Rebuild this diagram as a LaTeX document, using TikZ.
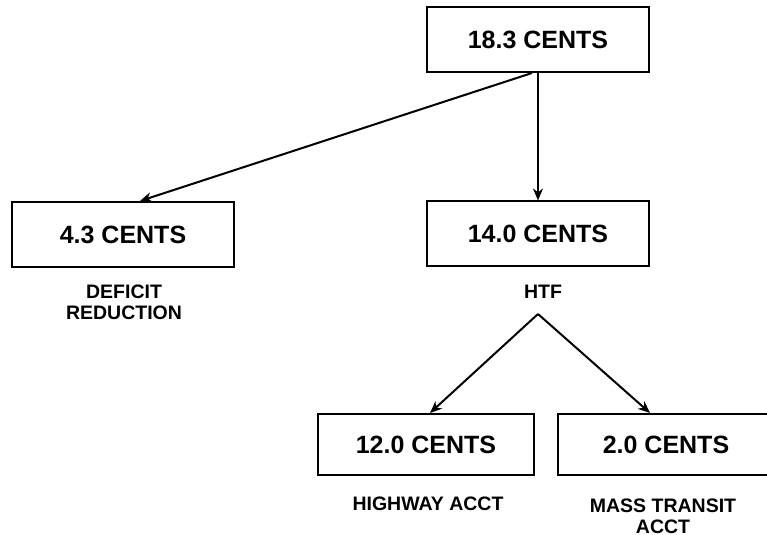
\documentclass[tikz,border=0pt]{standalone}
\usepackage{fontspec}
\setmainfont{Liberation Sans}
\usepackage{tikz}
\usetikzlibrary{arrows.meta, positioning}

\begin{document}
\begin{tikzpicture}[x=0.5pt, y=-0.5pt,
	box/.style={draw, line width=1pt, minimum width=111pt, minimum height=32.5pt, inner sep=0pt, font=\fontsize{12.5}{14}\selectfont\bfseries},
	lbl/.style={align=center, font=\fontsize{9.75}{10.5}\selectfont\bfseries},
	arr/.style={-{Stealth[length=6pt, width=5pt]}, line width=1pt}]
	\useasboundingbox (0,0) rectangle (767,535);
	\node[box] (a) at (538,39.5) {18.3 CENTS};
	\node[box] (b) at (123,234.5) {4.3 CENTS};
	\node[box] (c) at (538,234) {14.0 CENTS};
	\node[box, minimum width=108pt, minimum height=30.5pt] (d) at (426,444.5) {12.0 CENTS};
	\node[box, minimum width=108pt, minimum height=30.5pt] (e) at (666,444.5) {2.0 CENTS};
	\node[lbl] (bl) at (124,302) {DEFICIT\\REDUCTION};
	\node[lbl] (cl) at (543,292) {HTF};
	\node[lbl] (dl) at (428,504) {HIGHWAY ACCT};
	\node[lbl] (el) at (663,516) {MASS TRANSIT\\ACCT};
	\coordinate (top) at (538,314);
	\draw[arr] ([xshift=-3pt]a.south) -- ([xshift=8.5pt]b.north);
	\draw[arr, line width=0.7pt] (a.south) -- (c.north);
	\draw[arr] (top) -- ([xshift=2pt]d.north);
	\draw[arr] (top) -- ([xshift=-8pt]e.north);
\end{tikzpicture}
\end{document}
